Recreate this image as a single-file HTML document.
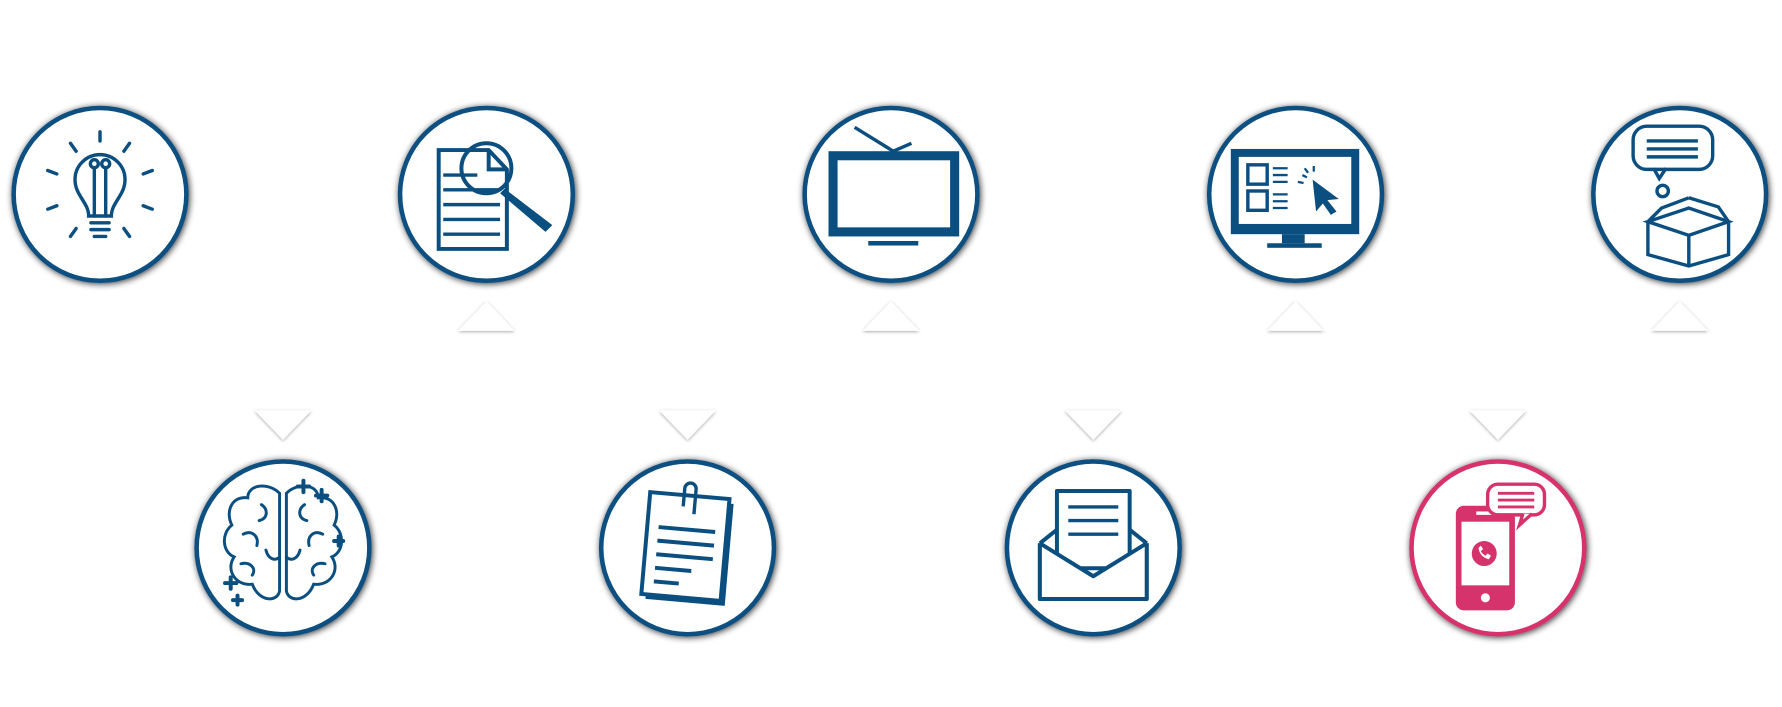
<!DOCTYPE html>
<html><head><meta charset="utf-8"><style>html,body{margin:0;padding:0;background:#fff;}svg{display:block}</style></head>
<body>
<svg width="1782" height="707" viewBox="0 0 1568 622" xmlns="http://www.w3.org/2000/svg">
<defs>
<filter id="sh" x="-20%" y="-20%" width="140%" height="140%"><feGaussianBlur in="SourceAlpha" stdDeviation="3"/><feOffset dx="1" dy="1"/><feComponentTransfer><feFuncA type="linear" slope="0.8"/></feComponentTransfer><feMerge><feMergeNode/><feMergeNode in="SourceGraphic"/></feMerge></filter>
<filter id="ts" x="-20%" y="-20%" width="140%" height="160%"><feGaussianBlur in="SourceAlpha" stdDeviation="1.5"/><feOffset dy="1"/><feComponentTransfer><feFuncA type="linear" slope="0.35"/></feComponentTransfer><feMerge><feMergeNode/><feMergeNode in="SourceGraphic"/></feMerge></filter>
</defs>
<g fill="#fff" stroke="#0b4f80" stroke-width="4" filter="url(#sh)">
<circle cx="88" cy="171" r="76"/><circle cx="428" cy="171" r="76"/><circle cx="784" cy="171" r="76"/><circle cx="1140" cy="171" r="76"/><circle cx="1478" cy="171" r="76"/>
<circle cx="249" cy="482" r="76"/><circle cx="605" cy="482" r="76"/><circle cx="962" cy="482" r="76"/>
<circle cx="1318" cy="482" r="76" stroke="#d6336c"/>
</g>
<g fill="#fff" filter="url(#ts)">
<polygon points="403,291 428,265 453,291"/><polygon points="759,291 784,265 809,291"/><polygon points="1115,291 1140,265 1165,291"/><polygon points="1453,291 1478,265 1503,291"/>
<polygon points="224,361 249,387 274,361"/><polygon points="580,361 605,387 630,361"/><polygon points="937,361 962,387 987,361"/><polygon points="1293,361 1318,387 1343,361"/>
</g>
<!-- bulb -->
<g fill="none" stroke="#0b4f80" stroke-width="3" stroke-linecap="round">
<path d="M78,190 C78,178 66,172 66,158 A22,22 0 1 1 110,158 C110,172 98,178 98,190 Z"/>
<path d="M83,190 V148 M93,190 V148"/><circle cx="83" cy="144" r="3.5"/><circle cx="93" cy="144" r="3.5"/>
<path d="M80,196 H96 M80,202 H96 M83,208 H93"/>
<path d="M88,116 V124 M62,126 L67,133 M114,126 L109,133 M42,150 L50,153 M134,150 L126,153 M42,184 L50,181 M134,184 L126,181 M62,208 L67,201 M114,208 L109,201"/>
</g>
<!-- doc search -->
<g fill="none" stroke="#0b4f80" stroke-width="3.5">
<path d="M386,132 H430 L446,149 V219 H386 Z"/><path d="M430,132 V149 H446"/>
<path d="M390,167 H440 M390,180 H440 M390,193 H440 M390,206 H440 M390,154 H420" stroke-width="3"/>
<circle cx="428" cy="148" r="22" fill="none"/>
</g>
<path d="M444,166 L486,198 L480,204 L440,170 Z" fill="#0b4f80"/>
<!-- tv -->
<g fill="#0b4f80"><rect x="729" y="133" width="115" height="75"/><rect x="764" y="212" width="44" height="4"/></g>
<rect x="737" y="141" width="99" height="59" fill="#fff"/>
<path d="M752,112 L786,133 L802,126" stroke="#0b4f80" stroke-width="3" fill="none"/>
<!-- monitor -->
<rect x="1083" y="131" width="113" height="75" fill="#0b4f80"/><rect x="1090" y="138" width="99" height="59" fill="#fff"/>
<rect x="1128" y="206" width="20" height="8" fill="#0b4f80"/><rect x="1115" y="214" width="48" height="4" fill="#0b4f80"/>
<g fill="none" stroke="#0b4f80" stroke-width="3"><rect x="1098" y="145" width="17" height="17"/><rect x="1098" y="168" width="17" height="17"/>
<path d="M1120,148 H1133 M1120,154 H1133 M1120,160 H1133 M1120,171 H1133 M1120,177 H1133 M1120,183 H1133" stroke-width="2"/>
<path d="M1146,154 L1150,156 M1148,148 L1151,152 M1156,146 L1156,151 M1142,160 L1147,161" stroke-width="2"/></g>
<path d="M1155,158 L1178,175 L1168,176 L1176,186 L1171,189 L1164,179 L1158,186 Z" fill="#0b4f80"/>
<!-- box bubble -->
<g fill="none" stroke="#0b4f80" stroke-width="3">
<rect x="1437" y="111" width="70" height="38" rx="12"/><path d="M1455,148 L1460,157 L1466,148"/>
<path d="M1449,124 H1494 M1449,131 H1494 M1449,138 H1494"/><circle cx="1463" cy="168" r="5"/>
<path d="M1450,195 L1486,183 L1521,195 L1486,207 Z M1450,195 V224 L1486,234 L1521,224 V195 M1486,207 V234"/>
<path d="M1450,195 L1462,183 L1486,174 M1521,195 L1512,182 L1486,174"/>
</g>
<!-- brain -->
<g fill="none" stroke="#0b4f80" stroke-width="2.6" stroke-linecap="round">
<path d="M246,434 C236,424 218,426 218,438 C204,436 198,450 204,462 C194,470 196,486 206,490 C198,502 208,516 222,514 C228,530 244,530 246,520 Z"/>
<path d="M252,434 C262,424 280,426 280,438 C294,436 300,450 294,462 C304,470 302,486 292,490 C300,502 290,516 276,514 C270,530 254,530 252,520 Z"/>
<path d="M230,444 C236,448 236,456 228,458 M214,470 C222,466 228,472 226,480 M234,484 C236,492 242,494 246,490 M212,496 C220,494 226,500 222,506 M268,444 C262,448 262,456 270,458 M284,470 C276,466 270,472 272,480 M264,484 C262,492 256,494 252,490 M286,496 C278,494 272,500 276,506"/>
<path d="M262,428 H272 M267,423 V433 M278,436 H288 M283,431 V441 M198,513 H208 M203,508 V518 M205,528 H213 M209,524 V532 M294,476 H302 M298,472 V480" stroke-width="3.5"/>
</g>
<!-- notes -->
<g transform="rotate(5 605 482)">
<rect x="572" y="440" width="70" height="90" fill="#0b4f80"/>
<rect x="568" y="436" width="70" height="90" fill="#fff" stroke="#0b4f80" stroke-width="3.5"/>
<g stroke="#0b4f80" stroke-width="3.5"><path d="M578,466 H628 M578,478 H628 M578,490 H628 M578,502 H610 M578,514 H600"/></g>
<path d="M598,446 V430 A5,5 0 0 1 608,430 V452" fill="none" stroke="#0b4f80" stroke-width="3"/>
</g>
<!-- envelope -->
<g fill="none" stroke="#0b4f80" stroke-width="3.5" stroke-linejoin="round">
<path d="M915,478 V527 H1009 V478"/>
<rect x="930" y="432" width="64" height="68" fill="#fff"/>
<path d="M940,446 H984 M940,458 H984 M940,470 H984" stroke-width="3"/>
<path d="M915,478 L962,507 L1009,478 L1009,527 L915,527 Z" fill="#fff" stroke="none"/>
<path d="M915,478 L962,507 L1009,478 M915,478 V527 H1009 V478"/><path d="M915,478 L930,466 M1009,478 L994,466"/>
</g>
<!-- phone -->
<rect x="1281" y="445" width="52" height="92" rx="7" fill="#d6336c"/>
<rect x="1286" y="459" width="42" height="56" fill="#fff"/>
<circle cx="1307" cy="526" r="4" fill="#fff"/><rect x="1299" y="450" width="14" height="3" fill="#fff"/>
<circle cx="1306" cy="487" r="11" fill="#d6336c"/>
<path d="M1301,482 q1,8 9,10 l2,-3 -3,-2 -2,2 q-3,-2 -4,-4 l2,-2 -2,-3 z" fill="#fff"/>
<rect x="1309" y="426" width="50" height="27" rx="9" fill="#fff" stroke="#d6336c" stroke-width="3"/>
<path d="M1340,452 L1337,462 L1348,452" fill="#fff" stroke="#d6336c" stroke-width="3"/>
<path d="M1318,434 H1350 M1318,440 H1350 M1318,446 H1350" stroke="#d6336c" stroke-width="2.5"/>
</svg>
</body></html>
